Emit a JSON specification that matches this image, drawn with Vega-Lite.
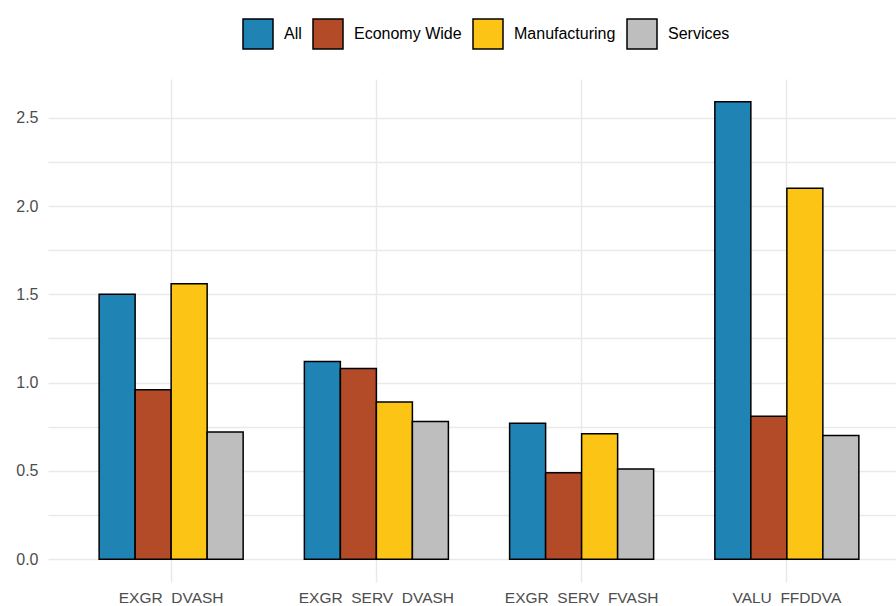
{
  "$schema": "https://vega.github.io/schema/vega-lite/v6.json",
  "width": 848,
  "height": 503,
  "autosize": {"type": "none"},
  "padding": {"left": 48, "top": 79, "right": 0, "bottom": 24},
  "background": "white",
  "config": {"view": {"stroke": null}, "font": "Liberation Sans"},
  "data": {
    "values": [
      {"group": "EXGR\u00a0 DVASH", "series": "All", "value": 1.50},
      {"group": "EXGR\u00a0 DVASH", "series": "Economy Wide", "value": 0.96},
      {"group": "EXGR\u00a0 DVASH", "series": "Manufacturing", "value": 1.56},
      {"group": "EXGR\u00a0 DVASH", "series": "Services", "value": 0.72},
      {"group": "EXGR\u00a0 SERV\u00a0 DVASH", "series": "All", "value": 1.12},
      {"group": "EXGR\u00a0 SERV\u00a0 DVASH", "series": "Economy Wide", "value": 1.08},
      {"group": "EXGR\u00a0 SERV\u00a0 DVASH", "series": "Manufacturing", "value": 0.89},
      {"group": "EXGR\u00a0 SERV\u00a0 DVASH", "series": "Services", "value": 0.78},
      {"group": "EXGR\u00a0 SERV\u00a0 FVASH", "series": "All", "value": 0.77},
      {"group": "EXGR\u00a0 SERV\u00a0 FVASH", "series": "Economy Wide", "value": 0.49},
      {"group": "EXGR\u00a0 SERV\u00a0 FVASH", "series": "Manufacturing", "value": 0.71},
      {"group": "EXGR\u00a0 SERV\u00a0 FVASH", "series": "Services", "value": 0.51},
      {"group": "VALU\u00a0 FFDDVA", "series": "All", "value": 2.59},
      {"group": "VALU\u00a0 FFDDVA", "series": "Economy Wide", "value": 0.81},
      {"group": "VALU\u00a0 FFDDVA", "series": "Manufacturing", "value": 2.10},
      {"group": "VALU\u00a0 FFDDVA", "series": "Services", "value": 0.70}
    ]
  },
  "mark": {"type": "bar", "stroke": "black", "strokeWidth": 1.5},
  "encoding": {
    "x": {
      "field": "group",
      "type": "nominal",
      "sort": null,
      "scale": {"range": [0, 862], "paddingInner": 0, "paddingOuter": 0.1},
      "axis": {
        "title": null,
        "domain": false,
        "ticks": false,
        "grid": true,
        "bandPosition": 0.5,
        "gridColor": "#e9e9e9",
        "gridWidth": 1.5,
        "labelAngle": 0,
        "labelFontSize": 15.5,
        "labelColor": "#4d4d4d",
        "labelPadding": 8
      }
    },
    "xOffset": {
      "field": "series",
      "sort": ["All", "Economy Wide", "Manufacturing", "Services"],
      "scale": {"paddingInner": 0, "paddingOuter": 0.85}
    },
    "y": {
      "field": "value",
      "type": "quantitative",
      "scale": {"domain": [-0.1295, 2.7195], "nice": false, "zero": false},
      "axis": {
        "title": null,
        "domain": false,
        "ticks": false,
        "grid": true,
        "gridColor": "#e9e9e9",
        "gridWidth": 1.5,
        "values": [0, 0.25, 0.5, 0.75, 1, 1.25, 1.5, 1.75, 2, 2.25, 2.5],
        "labelExpr": "datum.value % 0.5 == 0 ? format(datum.value, '.1f') : ''",
        "labelFontSize": 16,
        "labelColor": "#4d4d4d",
        "labelPadding": 10
      }
    },
    "y2": {"datum": 0},
    "color": {
      "field": "series",
      "type": "nominal",
      "scale": {
        "domain": ["All", "Economy Wide", "Manufacturing", "Services"],
        "range": ["#1f83b4", "#b44b28", "#fcc515", "#bebebe"]
      },
      "legend": {
        "title": null,
        "orient": "none",
        "legendX": 194,
        "legendY": -61,
        "direction": "horizontal",
        "symbolType": "square",
        "symbolSize": 900,
        "symbolStrokeColor": "black",
        "symbolStrokeWidth": 1.5,
        "symbolOpacity": 1,
        "labelFontSize": 16,
        "labelColor": "black",
        "labelOffset": 10,
        "columnPadding": 8
      }
    }
  }
}
